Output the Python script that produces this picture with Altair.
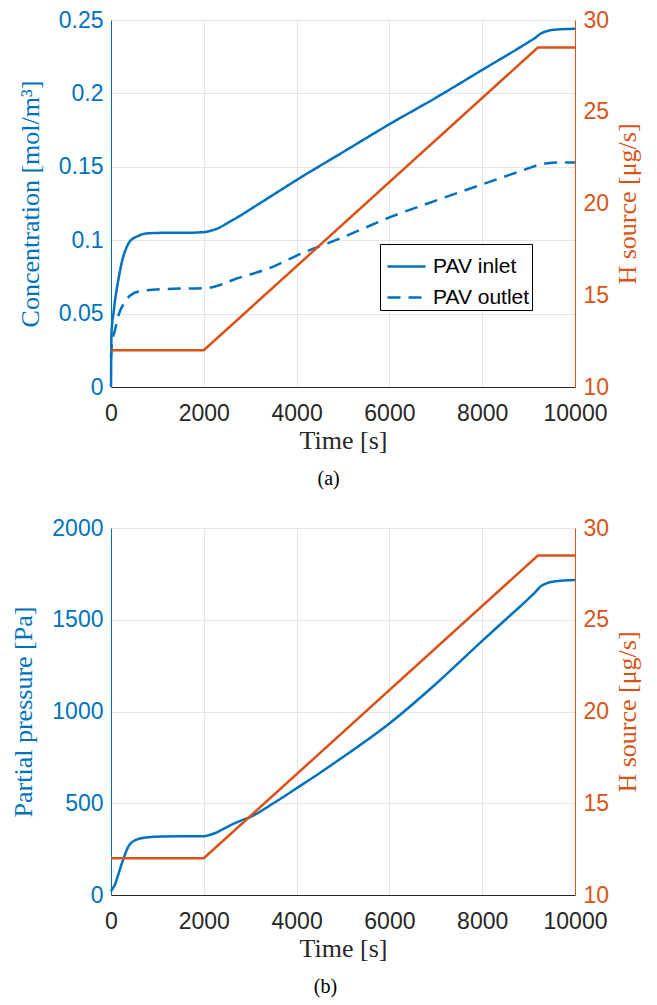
import altair as alt
import pandas as pd

BLUE = "#0072BD"
ORANGE = "#D95319"
DARK = "#262626"
GRID = "#e4e4e4"
SANS = "Liberation Sans"
SERIF = "Liberation Serif"

# ---------------- data ----------------
x_ticks = [0, 2000, 4000, 6000, 8000, 10000]

# Panel (a): concentration [mol/m3]
t_inlet = [0, 10, 60, 120, 170, 240, 310, 380, 456, 560, 670, 850, 1100, 1500,
           2000, 2150, 2300, 2500, 2800, 3000, 3500, 4000, 5000, 6000, 7000,
           8000, 9000, 9150, 9250, 9400, 9600, 10000]
c_inlet = [0, 0.036, 0.052, 0.066, 0.075, 0.086, 0.093, 0.098, 0.1007, 0.1025,
           0.104, 0.1048, 0.105, 0.105, 0.1055, 0.1065, 0.108, 0.1115, 0.117,
           0.121, 0.131, 0.141, 0.160, 0.179, 0.197, 0.216, 0.235, 0.238,
           0.2405, 0.2425, 0.2435, 0.244]

t_outlet = [0, 20, 80, 170, 280, 456, 670, 1170, 2000, 2180, 2400, 2680, 2890,
            3500, 4000, 5000, 6000, 7000, 8000, 9000, 9200, 9400, 9600,
            10000]
c_outlet = [0.02, 0.03, 0.038, 0.0497, 0.057, 0.0633, 0.0654, 0.0667, 0.0674,
            0.068, 0.070, 0.0736, 0.0756, 0.082, 0.0895, 0.102, 0.1155,
            0.127, 0.138, 0.149, 0.1512, 0.1524, 0.153, 0.153]

series_names = ["PAV inlet", "PAV outlet"]

# H source [ug/s] (same in both panels)
t_src = [0, 2000, 9200, 10000]
h_src = [12, 12, 28.5, 28.5]

# Panel (b): partial pressure [Pa]
t_pp = [0, 20, 75, 150, 225, 300, 370, 440, 514, 650, 800, 1100, 1500, 2000,
        2120, 2250, 2400, 2600, 2800, 3000, 3500, 4000, 4500, 5000, 6000, 7000,
        8000, 8500, 9000, 9150, 9260, 9400, 9600, 10000]
p_pp = [20, 30, 50, 105, 165, 220, 262, 285, 298, 309, 315, 319, 320, 320,
        327, 338, 357, 383, 405, 425, 500, 582, 665, 752, 935, 1150, 1385,
        1500, 1615, 1652, 1682, 1700, 1710, 1716]

conc_ticks = [0, 0.05, 0.1, 0.15, 0.2, 0.25]
src_ticks = [10, 15, 20, 25, 30]
pp_ticks = [0, 500, 1000, 1500, 2000]

# ---------------- tables ----------------
df_conc = pd.concat([
    pd.DataFrame({"t": t_inlet, "v": c_inlet, "series": series_names[0]}),
    pd.DataFrame({"t": t_outlet, "v": c_outlet, "series": series_names[1]}),
])
df_src = pd.DataFrame({"t": t_src, "h": h_src})
df_pp = pd.DataFrame({"t": t_pp, "p": p_pp})

W, H = 464, 367


def x_enc():
    return alt.X(
        "t:Q",
        scale=alt.Scale(domain=[0, 10000], nice=False),
        axis=alt.Axis(
            values=x_ticks, format="d", title="Time [s]", grid=True,
            gridColor=GRID, ticks=False, labelColor=DARK, domainColor=DARK,
            titleColor=DARK, labelFont=SANS, labelFontSize=23,
            titleFont=SERIF, titleFontSize=26, titleFontWeight="normal",
            labelPadding=15, titlePadding=2, labelFlush=False,
            labelOverlap=False,
        ),
    )


def right_layer():
    return alt.Chart(df_src).mark_line(color=ORANGE, strokeWidth=2.5).encode(
        x=x_enc(),
        y=alt.Y(
            "h:Q",
            scale=alt.Scale(domain=[10, 30], nice=False),
            axis=alt.Axis(
                values=src_ticks, orient="right", title="H source [μg/s]",
                grid=False, ticks=False, labelColor=ORANGE, titleColor=ORANGE,
                domainColor=ORANGE, labelFont=SANS, labelFontSize=23,
                titleFont=SERIF, titleFontSize=26, titleFontWeight="normal",
                titleAngle=270, titleAlign="center", titleBaseline="middle",
                titleX=52, titleY=H / 2, labelPadding=8,
                labelFlush=False, labelOverlap=False,
            ),
        ),
    )


def left_axis(title, values, fmt):
    return alt.Axis(
        values=values, format=fmt, title=title, orient="left", grid=True,
        gridColor=GRID, ticks=False, labelColor=BLUE, titleColor=BLUE,
        domainColor=BLUE, labelFont=SANS, labelFontSize=23, titleFont=SERIF,
        titleFontSize=26, titleFontWeight="normal", labelPadding=8,
        titlePadding=15, labelFlush=False, labelOverlap=False,
    )


conc = alt.Chart(df_conc).mark_line(color=BLUE, strokeWidth=2.5,
                                    interpolate="monotone").encode(
    x=x_enc(),
    y=alt.Y("v:Q", scale=alt.Scale(domain=[0, 0.25], nice=False),
            axis=left_axis("Concentration [mol/m³]", conc_ticks, ".2~f")),
    strokeDash=alt.StrokeDash(
        "series:N",
        scale=alt.Scale(domain=series_names, range=[[1, 0], [13, 8]]),
        legend=alt.Legend(
            orient="none", legendX=269, legendY=224, title=None,
            strokeColor="black", fillColor="white", padding=2,
            labelFont=SANS, labelFontSize=21, labelColor="black",
            symbolType="stroke", symbolStrokeWidth=2.5, symbolSize=1444,
            symbolStrokeColor=BLUE, symbolOffset=4, rowPadding=-7,
            labelOffset=6,
        ),
    ),
)

title_kw = dict(orient="bottom", anchor="middle", frame="bounds", font=SERIF,
                fontSize=20, fontWeight="normal", color="black", offset=16)

panel_a = alt.layer(conc, right_layer()).resolve_scale(y="independent").properties(
    width=W, height=H, title=alt.TitleParams("(a)", **title_kw),
)

pp = alt.Chart(df_pp).mark_line(color=BLUE, strokeWidth=2.5,
                                interpolate="monotone").encode(
    x=x_enc(),
    y=alt.Y("p:Q", scale=alt.Scale(domain=[0, 2000], nice=False),
            axis=left_axis("Partial pressure [Pa]", pp_ticks, "d")),
)

panel_b = alt.layer(pp, right_layer()).resolve_scale(y="independent").properties(
    width=W, height=H, title=alt.TitleParams("(b)", **title_kw),
)

chart = alt.vconcat(panel_a, panel_b, spacing=26).properties(
    padding={"left": 2, "top": 0, "right": 5, "bottom": 5}
).configure_view(stroke=DARK, strokeWidth=1).configure(background="white")

chart.save("out.html", embed_options={"renderer": "svg", "actions": False})
